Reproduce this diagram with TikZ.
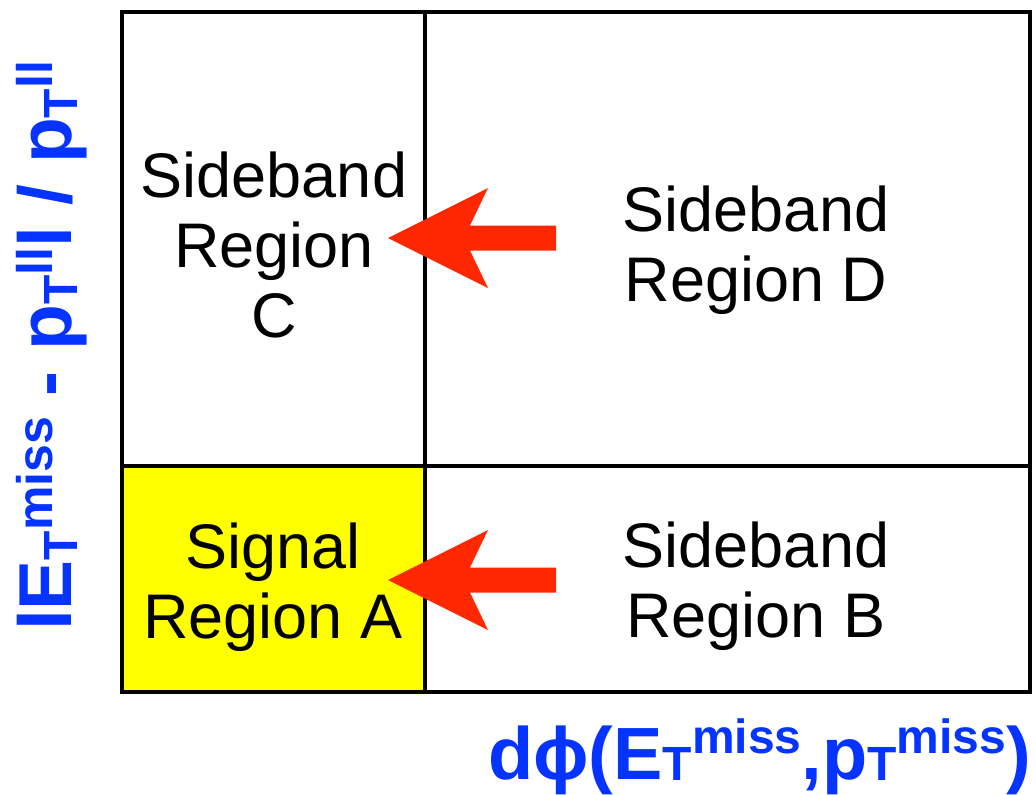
\documentclass[tikz,border=0pt]{standalone}
\usepackage{fontspec}
\setmainfont{Liberation Sans}
\definecolor{axisblue}{RGB}{5,51,255}
\definecolor{arrowred}{RGB}{255,40,0}
\definecolor{sigyellow}{RGB}{255,255,0}
% bottom label pieces
\newcommand{\BTsub}{\raisebox{-1pt}{\fontsize{48}{48}\selectfont T}}
\newcommand{\BMsup}[1]{\raisebox{26pt}{\fontsize{48}{48}\selectfont #1}}
% left label pieces
\newcommand{\LTsub}{\raisebox{-6pt}{\fontsize{48}{48}\selectfont T}}
\newcommand{\LMsup}[1]{\raisebox{19pt}{\fontsize{50}{50}\selectfont #1}}
\begin{document}
\begin{tikzpicture}[x=1pt,y=-1pt,
  celltext/.style={font=\fontsize{63}{70}\selectfont, align=center, inner sep=0pt},
  axislabel/.style={text=axisblue, inner sep=0pt},
  blockarrow/.style={fill=arrowred, draw=none},
  outerline/.style={line width=4.5pt},
  innerline/.style={line width=3.5pt}]
\useasboundingbox (0,0) rectangle (1036,795);
% cells
\fill[sigyellow] (122,466) rectangle (425,692);
\draw[innerline] (425,12) -- (425,692);
\draw[innerline] (122,466) -- (1030,466);
\draw[outerline] (122,12) rectangle (1030,692);
% texts
\node[celltext] (C) at (274,245) {Sideband\\Region\\C};
\node[celltext] (D) at (756,250) {Sideband\\Region D};
\node[celltext] (B) at (756,586) {Sideband\\Region B};
\node[celltext] (A) at (273,587) {Signal\\Region A};
% arrows
\coordinate (tipC) at (388,238);
\coordinate (tipA) at (388,580);
\foreach \t in {tipC,tipA}{
  \fill[blockarrow] (\t) -- ++(100,-50) -- ++(-18,37.5) -- ++(86,0) -- ++(0,25) -- ++(-86,0) -- ++(18,37.5) -- cycle;
}
% axis labels
\node[axislabel, font=\bfseries\fontsize{74}{74}\selectfont, anchor=base east] (xlab) at (1031,779) {d\symbol{"03D5}(E\BTsub\BMsup{miss},p\BTsub\BMsup{miss})};
\node[axislabel, font=\bfseries\fontsize{75}{75}\selectfont, rotate=90, anchor=base] (ylab) at (71,346) {lE\LTsub\LMsup{miss} - p\LTsub\LMsup{ll}l / p\LTsub\LMsup{ll}};
\end{tikzpicture}
\end{document}
